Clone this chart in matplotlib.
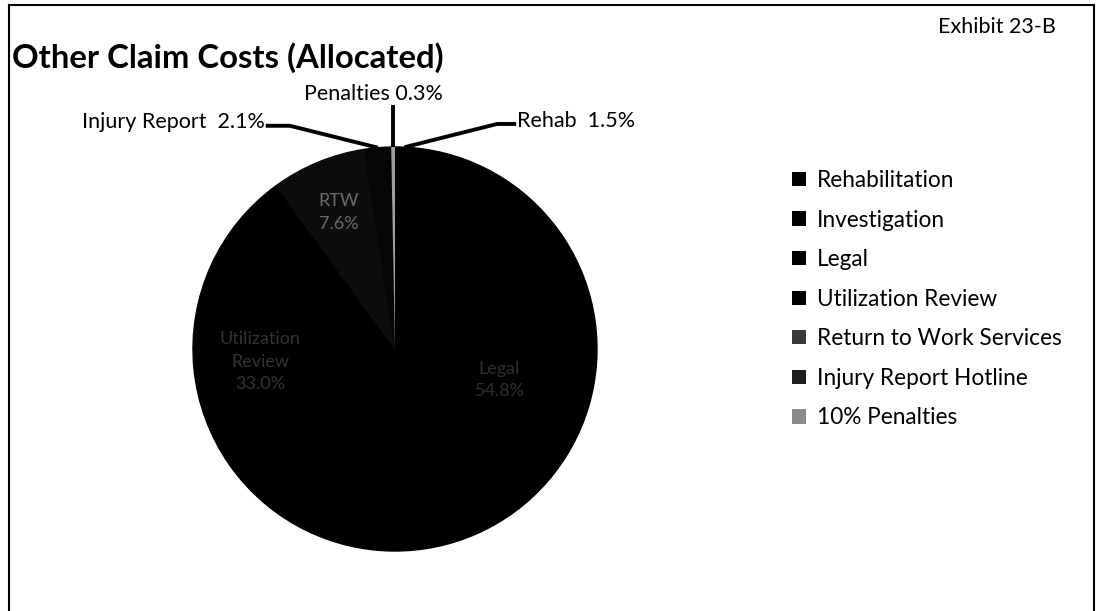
import numpy as np
import matplotlib
matplotlib.use("Agg")
import matplotlib.pyplot as plt

categories = ["Rehabilitation", "Investigation", "Legal", "Utilization Review",
              "Return to Work Services", "Injury Report Hotline", "10% Penalties"]
shares = [1.5, 0.7, 54.8, 33.0, 7.6, 2.1, 0.3]
colors = ["#000000", "#000000", "#000000", "#000000", "#0d0d0d", "#060606", "#a0a0a0"]
legend_colors = ["#000000", "#000000", "#000000", "#000000", "#3a3a3a", "#1e1e1e", "#8a8a8a"]
inside_labels = {2: "Legal\n54.8%", 3: "Utilization\nReview\n33.0%", 4: "RTW\n7.6%"}
inside_colors = {2: "#2e2e2e", 3: "#333333", 4: "#6a6a6a"}
outside_labels = {0: "Rehab  1.5%", 5: "Injury Report  2.1%", 6: "Penalties 0.3%"}
title = "Other Claim Costs (Allocated)"
exhibit = "Exhibit 23-B"

FONT = ["Lato", "DejaVu Sans"]
plt.rcParams["font.family"] = FONT

W, H = 1097, 611
fig = plt.figure(figsize=(W / 100, H / 100), dpi=100)

cx, cy, R = 395, 349, 202
ax = fig.add_axes([(cx - R) / W, (H - cy - R) / H, 2 * R / W, 2 * R / H])
wedges, _ = ax.pie(shares, colors=colors, startangle=90, counterclock=False,
                   radius=1.0, wedgeprops=dict(linewidth=0))
for w, c in zip(wedges, colors):
    if c != "#a0a0a0":
        w.set_edgecolor(c)
        w.set_linewidth(1.0)
    else:
        w.set_zorder(5)
ax.set_xlim(-1, 1)
ax.set_ylim(-1, 1)
ax.set_aspect("equal")
ax.axis("off")

def mid(w):
    return np.deg2rad((w.theta1 + w.theta2) / 2)

# inside labels
inside_r = {2: 0.54, 3: 0.67, 4: 0.73}
for i, txt in inside_labels.items():
    a = mid(wedges[i])
    ax.text(inside_r[i] * np.cos(a), inside_r[i] * np.sin(a), txt,
            ha="center", va="center", fontsize=13, color=inside_colors[i],
            linespacing=1.5, zorder=6)

# outside labels with leader lines
lw = 2.8
fs = 15.5
# Rehab
a = mid(wedges[0])
px, py = np.cos(a), np.sin(a)
ax.plot([px, 0.505, 0.6], [py, 1.114, 1.114], color="black", lw=lw,
        clip_on=False, solid_capstyle="butt")
ax.text(0.605, 1.13, outside_labels[0], ha="left", va="center", fontsize=fs)
# Injury report
a = mid(wedges[5])
px, py = np.cos(a), np.sin(a)
ax.plot([px, -0.52, -0.64], [py, 1.105, 1.105], color="black", lw=lw,
        clip_on=False, solid_capstyle="butt")
ax.text(-0.645, 1.125, outside_labels[5], ha="right", va="center", fontsize=fs)
# Penalties
a = mid(wedges[6])
px, py = np.cos(a), np.sin(a)
ax.plot([px, px], [py, 1.21], color="black", lw=lw, clip_on=False,
        solid_capstyle="butt", zorder=6)
ax.text(px - 0.095, 1.215, outside_labels[6], ha="center", va="bottom",
        fontsize=fs)

# title and exhibit
fig.text(12 / W, 1 - 58 / H, title, ha="left", va="center", fontsize=23.7,
         fontweight="bold")
fig.text(1056 / W, 1 - 27 / H, exhibit, ha="right", va="center", fontsize=15.5)

# legend
handles = [plt.Rectangle((0, 0), 1, 1, facecolor=c, edgecolor="none")
           for c in legend_colors]
leg = fig.legend(handles, categories, loc="upper left",
                 bbox_to_anchor=(792 / W, 1 - 170 / H), frameon=False,
                 fontsize=16.3, handlelength=0.6, handleheight=0.6,
                 handletextpad=0.5, labelspacing=0.82, borderpad=0,
                 borderaxespad=0)

# border
fig.add_artist(plt.Line2D([9 / W, 9 / W], [0, 1 - 5 / H], color="black", lw=1.5,
                          transform=fig.transFigure))
fig.add_artist(plt.Line2D([9 / W, 1094 / W], [1 - 5 / H, 1 - 5 / H], color="black",
                          lw=1.5, transform=fig.transFigure))
fig.add_artist(plt.Line2D([1094 / W, 1094 / W], [0, 1 - 5 / H], color="black",
                          lw=1.5, transform=fig.transFigure))

fig.savefig("out.png", dpi=100)
